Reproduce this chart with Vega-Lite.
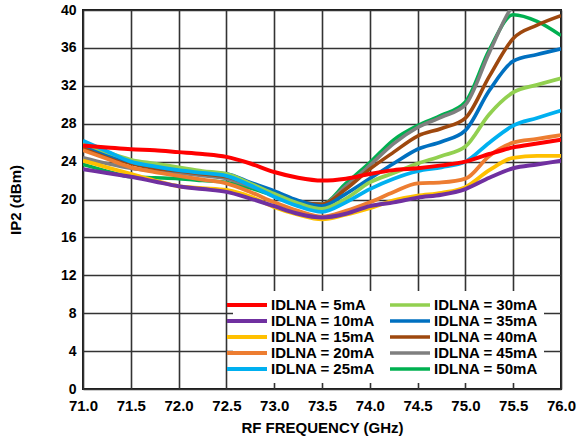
{
  "$schema": "https://vega.github.io/schema/vega-lite/v6.json",
  "width": 478,
  "height": 379,
  "autosize": {"type": "none"},
  "padding": {"left": 83, "top": 10, "right": 22, "bottom": 51},
  "config": {
    "font": "Liberation Sans",
    "background": "white",
    "view": {"stroke": "#1a1a1a", "strokeWidth": 2},
    "axis": {
      "grid": true,
      "gridColor": "#333333",
      "gridWidth": 1.6,
      "gridOpacity": 1,
      "ticks": false,
      "domain": false,
      "labelFontSize": 15,
      "labelFontWeight": "bold",
      "labelColor": "#000000",
      "titleFontSize": 15,
      "titleFontWeight": "bold",
      "titleColor": "#000000"
    }
  },
  "data": {
    "values": [
      {"f": 71.0, "IDLNA = 5mA": 25.7, "IDLNA = 10mA": 23.2, "IDLNA = 15mA": 24.1, "IDLNA = 20mA": 25.2, "IDLNA = 25mA": 26.2, "IDLNA = 30mA": 26.0, "IDLNA = 35mA": 25.8, "IDLNA = 40mA": 25.5, "IDLNA = 45mA": 24.4, "IDLNA = 50mA": 23.7},
      {"f": 71.25, "IDLNA = 5mA": 25.5, "IDLNA = 10mA": 22.8, "IDLNA = 15mA": 23.4, "IDLNA = 20mA": 24.3, "IDLNA = 25mA": 25.1, "IDLNA = 30mA": 25.0, "IDLNA = 35mA": 24.8, "IDLNA = 40mA": 24.6, "IDLNA = 45mA": 23.8, "IDLNA = 50mA": 23.0},
      {"f": 71.5, "IDLNA = 5mA": 25.3, "IDLNA = 10mA": 22.4, "IDLNA = 15mA": 22.7, "IDLNA = 20mA": 23.4, "IDLNA = 25mA": 24.0, "IDLNA = 30mA": 24.2, "IDLNA = 35mA": 24.0, "IDLNA = 40mA": 23.8, "IDLNA = 45mA": 23.3, "IDLNA = 50mA": 22.4},
      {"f": 71.75, "IDLNA = 5mA": 25.2, "IDLNA = 10mA": 21.9, "IDLNA = 15mA": 22.0, "IDLNA = 20mA": 22.9, "IDLNA = 25mA": 23.5, "IDLNA = 30mA": 23.8, "IDLNA = 35mA": 23.5, "IDLNA = 40mA": 23.3, "IDLNA = 45mA": 23.0, "IDLNA = 50mA": 22.3},
      {"f": 72.0, "IDLNA = 5mA": 25.0, "IDLNA = 10mA": 21.4, "IDLNA = 15mA": 21.4, "IDLNA = 20mA": 22.5, "IDLNA = 25mA": 23.1, "IDLNA = 30mA": 23.4, "IDLNA = 35mA": 23.1, "IDLNA = 40mA": 23.0, "IDLNA = 45mA": 22.8, "IDLNA = 50mA": 22.2},
      {"f": 72.25, "IDLNA = 5mA": 24.8, "IDLNA = 10mA": 21.1, "IDLNA = 15mA": 21.2, "IDLNA = 20mA": 22.1, "IDLNA = 25mA": 22.8, "IDLNA = 30mA": 23.0, "IDLNA = 35mA": 22.9, "IDLNA = 40mA": 22.7, "IDLNA = 45mA": 22.5, "IDLNA = 50mA": 22.0},
      {"f": 72.5, "IDLNA = 5mA": 24.5, "IDLNA = 10mA": 20.8, "IDLNA = 15mA": 21.0, "IDLNA = 20mA": 21.7, "IDLNA = 25mA": 22.5, "IDLNA = 30mA": 22.7, "IDLNA = 35mA": 22.7, "IDLNA = 40mA": 22.4, "IDLNA = 45mA": 22.2, "IDLNA = 50mA": 21.8},
      {"f": 72.75, "IDLNA = 5mA": 23.8, "IDLNA = 10mA": 20.1, "IDLNA = 15mA": 20.3, "IDLNA = 20mA": 20.8, "IDLNA = 25mA": 21.5, "IDLNA = 30mA": 21.7, "IDLNA = 35mA": 21.8, "IDLNA = 40mA": 21.6, "IDLNA = 45mA": 21.4, "IDLNA = 50mA": 21.2},
      {"f": 73.0, "IDLNA = 5mA": 22.9, "IDLNA = 10mA": 19.3, "IDLNA = 15mA": 19.2, "IDLNA = 20mA": 19.7, "IDLNA = 25mA": 20.3, "IDLNA = 30mA": 20.6, "IDLNA = 35mA": 20.9, "IDLNA = 40mA": 20.7, "IDLNA = 45mA": 20.6, "IDLNA = 50mA": 20.4},
      {"f": 73.25, "IDLNA = 5mA": 22.3, "IDLNA = 10mA": 18.5, "IDLNA = 15mA": 18.4, "IDLNA = 20mA": 18.8, "IDLNA = 25mA": 19.3, "IDLNA = 30mA": 19.6, "IDLNA = 35mA": 19.9, "IDLNA = 40mA": 19.8, "IDLNA = 45mA": 19.8, "IDLNA = 50mA": 19.7},
      {"f": 73.5, "IDLNA = 5mA": 22.0, "IDLNA = 10mA": 18.1, "IDLNA = 15mA": 17.9, "IDLNA = 20mA": 18.2, "IDLNA = 25mA": 18.7, "IDLNA = 30mA": 19.0, "IDLNA = 35mA": 19.3, "IDLNA = 40mA": 19.5, "IDLNA = 45mA": 19.5, "IDLNA = 50mA": 19.5},
      {"f": 73.75, "IDLNA = 5mA": 22.2, "IDLNA = 10mA": 18.5, "IDLNA = 15mA": 18.4, "IDLNA = 20mA": 18.8, "IDLNA = 25mA": 19.7, "IDLNA = 30mA": 20.1, "IDLNA = 35mA": 20.6, "IDLNA = 40mA": 21.1, "IDLNA = 45mA": 21.4, "IDLNA = 50mA": 21.7},
      {"f": 74.0, "IDLNA = 5mA": 22.7, "IDLNA = 10mA": 19.3, "IDLNA = 15mA": 19.1, "IDLNA = 20mA": 19.7, "IDLNA = 25mA": 21.1, "IDLNA = 30mA": 21.8, "IDLNA = 35mA": 22.2, "IDLNA = 40mA": 23.2, "IDLNA = 45mA": 23.6, "IDLNA = 50mA": 23.9},
      {"f": 74.25, "IDLNA = 5mA": 23.1, "IDLNA = 10mA": 19.7, "IDLNA = 15mA": 19.9, "IDLNA = 20mA": 20.8, "IDLNA = 25mA": 22.2, "IDLNA = 30mA": 22.8, "IDLNA = 35mA": 23.8, "IDLNA = 40mA": 25.0, "IDLNA = 45mA": 25.9, "IDLNA = 50mA": 26.3},
      {"f": 74.5, "IDLNA = 5mA": 23.3, "IDLNA = 10mA": 20.2, "IDLNA = 15mA": 20.4, "IDLNA = 20mA": 21.7, "IDLNA = 25mA": 23.0, "IDLNA = 30mA": 23.8, "IDLNA = 35mA": 25.3, "IDLNA = 40mA": 26.7, "IDLNA = 45mA": 27.6, "IDLNA = 50mA": 27.8},
      {"f": 74.75, "IDLNA = 5mA": 23.6, "IDLNA = 10mA": 20.5, "IDLNA = 15mA": 20.7, "IDLNA = 20mA": 21.8, "IDLNA = 25mA": 23.4, "IDLNA = 30mA": 24.6, "IDLNA = 35mA": 26.1, "IDLNA = 40mA": 27.5, "IDLNA = 45mA": 28.7, "IDLNA = 50mA": 28.9},
      {"f": 75.0, "IDLNA = 5mA": 24.0, "IDLNA = 10mA": 21.1, "IDLNA = 15mA": 21.3, "IDLNA = 20mA": 22.2, "IDLNA = 25mA": 24.0, "IDLNA = 30mA": 25.6, "IDLNA = 35mA": 27.3, "IDLNA = 40mA": 28.6, "IDLNA = 45mA": 30.0, "IDLNA = 50mA": 30.3},
      {"f": 75.25, "IDLNA = 5mA": 24.8, "IDLNA = 10mA": 22.3, "IDLNA = 15mA": 23.1, "IDLNA = 20mA": 24.6, "IDLNA = 25mA": 26.0, "IDLNA = 30mA": 29.0, "IDLNA = 35mA": 31.5, "IDLNA = 40mA": 33.0, "IDLNA = 45mA": 35.5, "IDLNA = 50mA": 35.8},
      {"f": 75.5, "IDLNA = 5mA": 25.5, "IDLNA = 10mA": 23.3, "IDLNA = 15mA": 24.4, "IDLNA = 20mA": 26.0, "IDLNA = 25mA": 27.8, "IDLNA = 30mA": 31.3, "IDLNA = 35mA": 34.6, "IDLNA = 40mA": 37.0, "IDLNA = 45mA": 40.5, "IDLNA = 50mA": 39.5},
      {"f": 75.75, "IDLNA = 5mA": 25.9, "IDLNA = 10mA": 23.7, "IDLNA = 15mA": 24.6, "IDLNA = 20mA": 26.4, "IDLNA = 25mA": 28.6, "IDLNA = 30mA": 32.1, "IDLNA = 35mA": 35.3, "IDLNA = 40mA": 38.4, "IDLNA = 45mA": 42.0, "IDLNA = 50mA": 38.8},
      {"f": 76.0, "IDLNA = 5mA": 26.3, "IDLNA = 10mA": 24.1, "IDLNA = 15mA": 24.6, "IDLNA = 20mA": 26.8, "IDLNA = 25mA": 29.4, "IDLNA = 30mA": 32.8, "IDLNA = 35mA": 35.9, "IDLNA = 40mA": 39.4, "IDLNA = 45mA": 43.0, "IDLNA = 50mA": 37.3}
    ]
  },
  "transform": [
    {"fold": ["IDLNA = 50mA", "IDLNA = 45mA", "IDLNA = 40mA", "IDLNA = 35mA", "IDLNA = 30mA", "IDLNA = 25mA", "IDLNA = 20mA", "IDLNA = 15mA", "IDLNA = 10mA", "IDLNA = 5mA"], "as": ["s", "v"]}
  ],
  "mark": {"type": "line", "interpolate": "monotone", "clip": true},
  "encoding": {
    "x": {
      "field": "f", "type": "quantitative",
      "scale": {"domain": [71, 76], "nice": false},
      "axis": {"values": [71, 71.5, 72, 72.5, 73, 73.5, 74, 74.5, 75, 75.5, 76], "format": ".1f", "labelFlush": false, "labelOverlap": false, "labelPadding": 9, "titlePadding": 7, "title": "RF FREQUENCY (GHz)"}
    },
    "y": {
      "field": "v", "type": "quantitative",
      "scale": {"domain": [0, 40], "nice": false},
      "axis": {"values": [0, 4, 8, 12, 16, 20, 24, 28, 32, 36, 40], "labelFontSize": 14, "labelFlush": false, "labelOverlap": false, "labelPadding": 7, "titlePadding": 37, "title": "IP2 (dBm)"}
    },
    "color": {
      "field": "s", "type": "nominal",
      "scale": {
        "domain": ["IDLNA = 5mA", "IDLNA = 10mA", "IDLNA = 15mA", "IDLNA = 20mA", "IDLNA = 25mA", "IDLNA = 30mA", "IDLNA = 35mA", "IDLNA = 40mA", "IDLNA = 45mA", "IDLNA = 50mA"],
        "range": ["#FF0000", "#7030A0", "#FFC000", "#ED7D31", "#00B0F0", "#92D050", "#0070C0", "#9E480E", "#7F7F7F", "#00B050"]
      },
      "legend": {
        "orient": "none", "legendX": 150, "legendY": 281, "columns": 2, "title": null,
        "fillColor": "white", "padding": 6,
        "symbolType": "M-3.333,0L3.333,0", "symbolSize": 144, "symbolStrokeWidth": 4,
        "labelFontSize": 15, "labelFontWeight": "bold", "labelColor": "#000000",
        "labelOffset": 16, "labelLimit": 200, "rowPadding": 0, "columnPadding": 7
      }
    },
    "strokeWidth": {
      "field": "s", "type": "nominal",
      "scale": {
        "domain": ["IDLNA = 5mA", "IDLNA = 10mA", "IDLNA = 15mA", "IDLNA = 20mA", "IDLNA = 25mA", "IDLNA = 30mA", "IDLNA = 35mA", "IDLNA = 40mA", "IDLNA = 45mA", "IDLNA = 50mA"],
        "range": [4, 3.5, 4, 3, 3.5, 3, 2.5, 2.5, 2.5, 2.5]
      },
      "legend": null
    },
    "order": {"field": "s"}
  }
}
